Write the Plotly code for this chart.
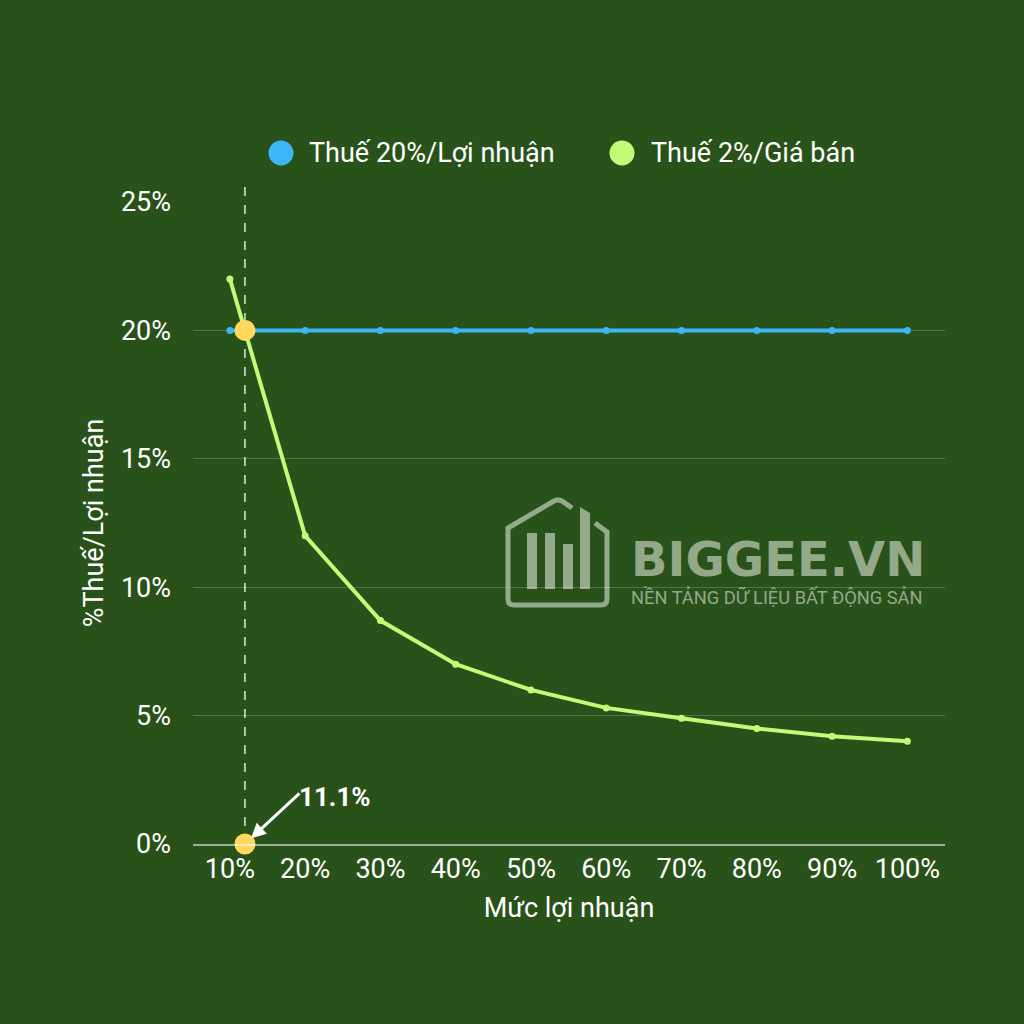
import plotly.graph_objects as go

# ---- data ----
profit_levels = [10, 20, 30, 40, 50, 60, 70, 80, 90, 100]
tax_profit = [20, 20, 20, 20, 20, 20, 20, 20, 20, 20]
tax_price = [22, 12, 8.7, 7, 6, 5.3, 4.9, 4.5, 4.2, 4]
cross_x = 12.0
cross_y = [20, 0]
cross_label = "11.1%"
x_ticks = [10, 20, 30, 40, 50, 60, 70, 80, 90, 100]
y_ticks = [0, 5, 10, 15, 20, 25]
series_names = ["Thuế 20%/Lợi nhuận", "Thuế 2%/Giá bán"]

BG = "#29521b"
BLUE = "#3bb6f7"
LIME = "#c2fb78"
YEL = "#ffd95e"
FONT = "Roboto"
WM = "rgba(232,236,226,0.57)"

# plot area in pixels
L, R, T, B = 193, 945, 202, 844
def px(x):
    return (x - L) / (R - L)
def py(y):
    return (B - y) / (B - T)

fig = go.Figure()
fig.add_trace(go.Scatter(x=profit_levels, y=tax_profit, mode="lines+markers",
                         line=dict(color=BLUE, width=4), marker=dict(size=7, color=BLUE),
                         name=series_names[0], showlegend=False))
fig.add_trace(go.Scatter(x=profit_levels, y=tax_price, mode="lines+markers",
                         line=dict(color=LIME, width=4), marker=dict(size=7, color=LIME),
                         name=series_names[1], showlegend=False))
fig.add_trace(go.Scatter(x=[cross_x, cross_x], y=cross_y, mode="markers",
                         marker=dict(size=21, color=YEL), showlegend=False, cliponaxis=False))

shapes = []
# dashed vertical line
shapes.append(dict(type="line", xref="x", yref="paper", x0=cross_x, x1=cross_x,
                   y0=0, y1=py(186), line=dict(color="rgba(255,255,255,0.85)", width=1.5, dash="dash"),
                   layer="below"))
# legend circles
for cx, col in [(281, BLUE), (622, LIME)]:
    shapes.append(dict(type="circle", xref="paper", yref="paper",
                       xsizemode="pixel", ysizemode="pixel",
                       xanchor=px(cx), yanchor=py(153),
                       x0=-12.5, x1=12.5, y0=-12.5, y1=12.5,
                       fillcolor=col, line=dict(width=0)))

# watermark house icon
def P(x, y):
    return f"{px(x):.5f},{py(y):.5f}"
house = ("M " + P(595, 523) + " L " + P(607, 532) + " L " + P(607, 599)
         + " Q " + P(607, 605) + " " + P(601, 605) + " L " + P(514, 605)
         + " Q " + P(508, 605) + " " + P(508, 599) + " L " + P(508, 528)
         + " L " + P(554, 501) + " Q " + P(558, 499) + " " + P(562, 501)
         + " L " + P(572, 508))
shapes.append(dict(type="path", xref="paper", yref="paper", path=house,
                   line=dict(color=WM, width=5), layer="below"))
for (x0, x1, top) in [(527, 537, 533), (545, 555, 533), (563, 573, 544)]:
    shapes.append(dict(type="rect", xref="paper", yref="paper",
                       x0=px(x0), x1=px(x1), y0=py(589), y1=py(top),
                       fillcolor=WM, line=dict(width=0), layer="below"))
bar4 = "M " + P(580, 507) + " L " + P(590, 513) + " L " + P(590, 589) + " L " + P(580, 589) + " Z"
shapes.append(dict(type="path", xref="paper", yref="paper", path=bar4,
                   fillcolor=WM, line=dict(width=0), layer="below"))

annotations = [
    dict(xref="paper", yref="paper", x=px(307), y=py(153), xanchor="left", yanchor="middle",
         text=series_names[0], showarrow=False, font=dict(family=FONT, size=27, color="white")),
    dict(xref="paper", yref="paper", x=px(649), y=py(153), xanchor="left", yanchor="middle",
         text=series_names[1], showarrow=False, font=dict(family=FONT, size=27, color="white")),
    # arrow
    dict(x=cross_x, y=0, xref="x", yref="y", text="",
         showarrow=True, arrowhead=2, arrowsize=1, arrowwidth=3, arrowcolor="white",
         ax=56, ay=-52, standoff=8),
    # label
    dict(x=cross_x, y=0, xref="x", yref="y", text="<b>" + cross_label + "</b>",
         showarrow=False, xanchor="left", yanchor="middle", xshift=52, yshift=47,
         font=dict(family=FONT, size=26, color="white")),
    dict(xref="paper", yref="paper", x=px(629), y=py(559), xanchor="left", yanchor="middle",
         text="<b>BIGGEE.VN</b>", showarrow=False,
         font=dict(family="DejaVu Sans", size=48, color=WM)),
    dict(xref="paper", yref="paper", x=px(629), y=py(597), xanchor="left", yanchor="middle",
         text="NỀN TẢNG DỮ LIỆU BẤT ĐỘNG SẢN", showarrow=False,
         font=dict(family=FONT, size=18.3, color=WM)),
]

fig.update_layout(
    width=1024, height=1024,
    paper_bgcolor=BG, plot_bgcolor=BG,
    margin=dict(l=L, r=1024 - R, t=T, b=1024 - B),
    showlegend=False,
    shapes=shapes, annotations=annotations,
    font=dict(family=FONT, color="white", size=27),
)
fig.update_xaxes(range=[5.1, 105], tickvals=x_ticks, ticktext=[f"{v}%" for v in x_ticks],
                 showgrid=False, zeroline=False, showline=True,
                 linecolor="rgba(255,255,255,0.55)", linewidth=1.5,
                 tickfont=dict(family=FONT, size=27, color="white"), ticklabelstandoff=0,
                 title=dict(text="Mức lợi nhuận", font=dict(family=FONT, size=27, color="white"), standoff=14))
fig.update_yaxes(range=[0, 25], tickvals=y_ticks, ticktext=[f"{v}%" for v in y_ticks],
                 showgrid=True, gridcolor="rgba(255,255,255,0.2)", gridwidth=1,
                 zeroline=False, showline=False,
                 tickfont=dict(family=FONT, size=27, color="white"), ticklabelstandoff=21,
                 title=dict(text="%Thuế/Lợi nhuận", font=dict(family=FONT, size=27, color="white"), standoff=9))

fig.write_html("out.html", config={"displayModeBar": False},
               post_script="document.body.style.margin='0';document.body.style.background='" + BG + "';")
